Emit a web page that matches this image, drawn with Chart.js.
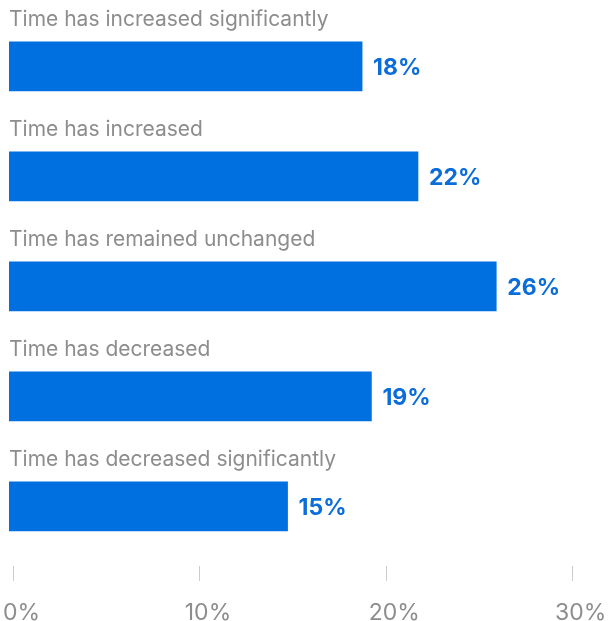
<!DOCTYPE html>
<html>
<head>
<meta charset="utf-8">
<script src="https://cdn.jsdelivr.net/npm/chart.js@4"></script>
<style>
  html, body { margin: 0; padding: 0; background: #fff; }
  #box { width: 609px; height: 621px; position: relative; }
</style>
</head>
<body>
<div id="box"><canvas id="chartBox"></canvas></div>
<script>
const categories = [
    'Time has increased significantly',
    'Time has increased',
    'Time has remained unchanged',
    'Time has decreased',
    'Time has decreased significantly'
]
const shares = [18.7, 21.7, 25.9, 19.2, 14.7]
const valueLabels = ['18%', '22%', '26%', '19%', '15%']
const tickValues = [0, 10, 20, 30]
const tickLabels = ['0%', '10%', '20%', '30%']

const gray = '#8d8d8d'
const blue = '#006fe0'

// labels above bars, values after bars, bottom ticks
const labelPlugin = {
    id: 'labels',
    afterDatasetsDraw(chart) {
        const ctx = chart.ctx
        const bars = chart.getDatasetMeta(0).data
        ctx.save()
        bars.forEach((bar, i) => {
            const top = bar.y - bar.height / 2
            ctx.fillStyle = gray
            ctx.font = '21px Inter'
            ctx.textAlign = 'left'
            ctx.textBaseline = 'alphabetic'
            ctx.fillText(categories[i], bar.base, top - 15.5)

            ctx.fillStyle = '#0a6dd9'
            ctx.font = 'bold 23px Inter'
            ctx.fillText(valueLabels[i], bar.x + 11, bar.y + 9)
        })

        const x = chart.scales.x
        ctx.strokeStyle = '#cccccc'
        ctx.lineWidth = 1
        ctx.fillStyle = gray
        ctx.font = '23px Inter'
        ctx.textAlign = 'center'
        tickValues.forEach((v, i) => {
            const px = x.getPixelForValue(v)
            ctx.beginPath()
            ctx.moveTo(Math.floor(px) + 0.5, 566)
            ctx.lineTo(Math.floor(px) + 0.5, 581)
            ctx.stroke()
            ctx.fillText(tickLabels[i], px + 8, 620)
        })
        ctx.restore()
    }
}

const context = document.querySelector('#chartBox').getContext('2d')
const chart = new Chart(context, {
    type: 'bar',
    data: {
        labels: categories,
        datasets: [{
            data: shares,
            base: -0.25,
            backgroundColor: blue,
            barThickness: 49
        }]
    },
    options: {
        indexAxis: 'y',
        responsive: true,
        maintainAspectRatio: false,
        animation: false,
        layout: { padding: { left: 9, right: 8.4, top: 11.3, bottom: 59.7 } },
        plugins: { legend: { display: false }, tooltip: { enabled: false } },
        scales: {
            x: { display: false, min: -0.25, max: 31.5 },
            y: { display: false }
        }
    },
    plugins: [labelPlugin]
})
</script>
</body>
</html>
